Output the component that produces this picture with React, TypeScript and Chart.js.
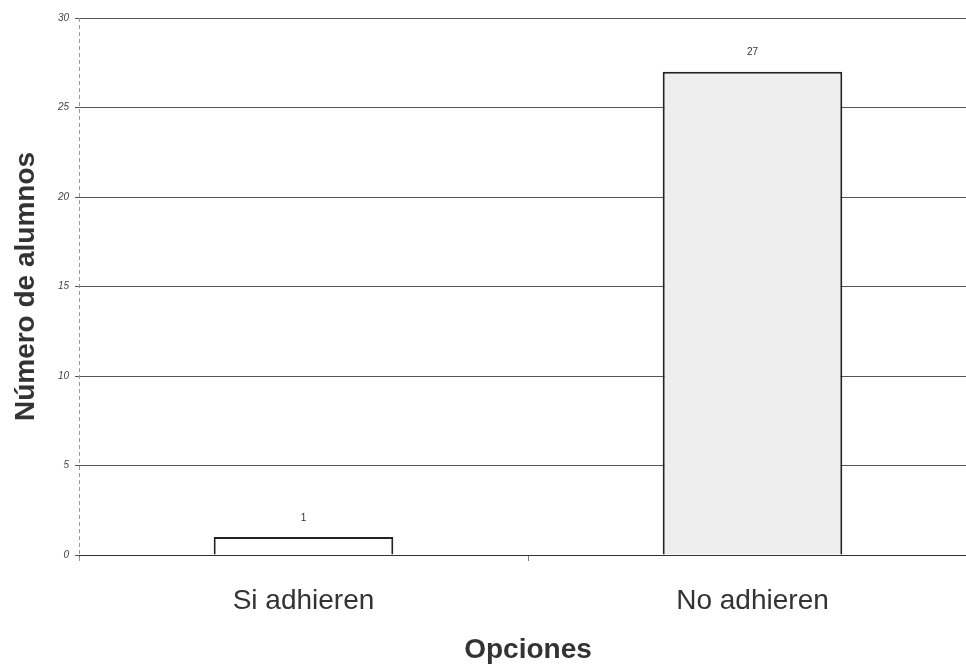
import React, { useEffect, useRef } from "react";
import { Chart, registerables } from "chart.js";

Chart.register(...registerables);

const categories = ["Si adhieren", "No adhieren"];
const values = [1, 27];
const barFills = ["#ffffff", "#eeeeee"];
const yTicks = [0, 5, 10, 15, 20, 25, 30];
const yTitle = "Número de alumnos";
const xTitle = "Opciones";

const FONT = "'Liberation Sans', Arial, sans-serif";

const valueLabels = {
  id: "valueLabels",
  afterDatasetsDraw(chart: any) {
    const ctx = chart.ctx;
    const meta = chart.getDatasetMeta(0);
    ctx.save();
    ctx.font = `10px ${FONT}`;
    ctx.fillStyle = "#333";
    ctx.textAlign = "center";
    ctx.textBaseline = "middle";
    meta.data.forEach((bar: any, i: number) => {
      ctx.fillText(String(values[i]), bar.x, bar.y - 19);
    });
    ctx.restore();
  },
};

const dashedYAxis = {
  id: "dashedYAxis",
  beforeDatasetsDraw(chart: any) {
    const { ctx, chartArea } = chart;
    ctx.save();
    ctx.strokeStyle = "#999";
    ctx.lineWidth = 1;
    ctx.setLineDash([4, 3]);
    ctx.beginPath();
    ctx.moveTo(chartArea.left + 0.5, chartArea.top);
    ctx.lineTo(chartArea.left + 0.5, chartArea.bottom + 8);
    ctx.stroke();
    ctx.restore();
  },
};

export default function App() {
  const ref = useRef<HTMLCanvasElement | null>(null);
  useEffect(() => {
    document.body.style.margin = "0";
    document.body.style.overflow = "hidden";
    const chart = new Chart(ref.current!, {
      type: "bar",
      data: {
        labels: categories,
        datasets: [
          {
            data: values,
            backgroundColor: barFills,
            borderColor: "#222",
            borderWidth: 2,
            barPercentage: 0.4,
            categoryPercentage: 1,
          },
        ],
      },
      options: {
        responsive: false,
        animation: false,
        layout: { padding: { left: 0, right: 0, top: 18, bottom: 2 } },
        plugins: { legend: { display: false }, tooltip: { enabled: false } },
        scales: {
          x: {
            afterFit: (scale: any) => {
              scale.height = 112;
            },
            grid: { display: true, drawOnChartArea: false, offset: true, tickLength: 6, color: "#777" },
            border: { color: "#333", width: 1 },
            ticks: { font: { family: FONT, size: 28 }, color: "#333", padding: 23, maxRotation: 0 },
            title: {
              display: true,
              text: xTitle,
              font: { family: FONT, size: 28, weight: "bold" },
              color: "#333",
              padding: { top: 17, bottom: 0 },
            },
          },
          y: {
            min: 0,
            max: 30,
            afterBuildTicks: (scale: any) => {
              scale.ticks = yTicks.map((v) => ({ value: v }));
            },
            afterFit: (scale: any) => {
              scale.width = 79;
            },
            grid: { color: "#555", lineWidth: 1, tickLength: 4 },
            border: { display: false },
            ticks: { font: { family: FONT, size: 10, style: "italic" }, color: "#444", padding: 6 },
            title: {
              display: true,
              text: yTitle,
              font: { family: FONT, size: 28, weight: "bold" },
              color: "#333",
              padding: { top: 9, bottom: 0 },
            },
          },
        },
      },
      plugins: [valueLabels, dashedYAxis],
    });
    return () => chart.destroy();
  }, []);
  return (
    <div style={{ width: 966, height: 669, overflow: "hidden" }}>
      <canvas ref={ref} width={977} height={669} style={{ display: "block" }} />
    </div>
  );
}
